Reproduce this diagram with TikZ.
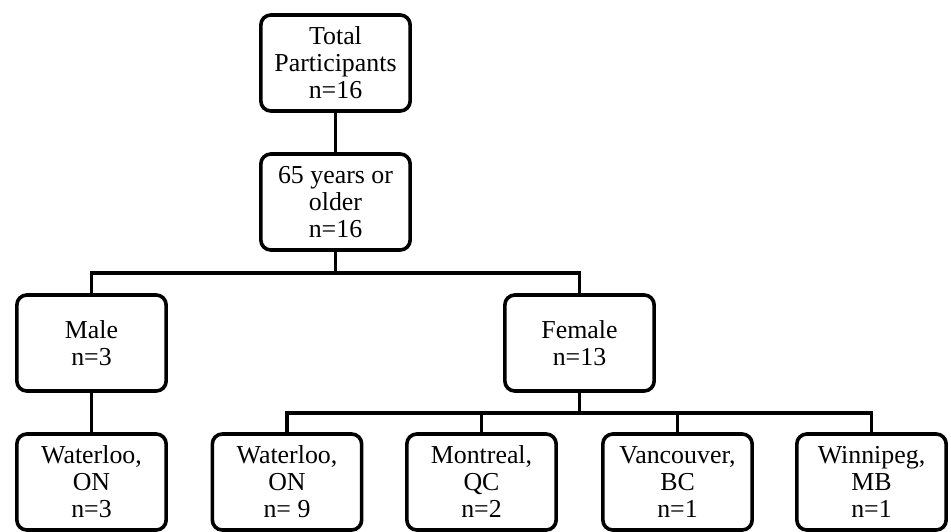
\documentclass[tikz,border=0pt]{standalone}
\usepackage{fontspec}
\setmainfont{Liberation Serif}
\begin{document}
\begin{tikzpicture}[x=0.75pt,y=-0.75pt,
  box/.style={draw=black,line width=2.7pt,rounded corners=7.5pt,minimum width=112pt,minimum height=72pt,inner sep=0pt,align=center,font=\fontsize{19.4}{20.25}\selectfont},
  link/.style={draw=black,line width=2.3pt}]
\useasboundingbox (0,0) rectangle (951,532);
\node[box] (top) at (335.5,63) {Total\\Participants\\n=16};
\node[box] (age) at (335.5,202) {65 years or\\older\\n=16};
\node[box] (male) at (91.5,343) {Male\\n=3};
\node[box] (female) at (579.5,343) {Female\\n=13};
\node[box] (w1) at (91.5,482) {Waterloo,\\ON\\n=3};
\node[box] (w2) at (287,482) {Waterloo,\\ON\\n= 9};
\node[box] (mtl) at (481.5,482) {Montreal,\\QC\\n=2};
\node[box] (van) at (677.5,482) {Vancouver,\\BC\\n=1};
\node[box] (win) at (871.5,482) {Winnipeg,\\MB\\n=1};
\coordinate (bus1) at (0,273);
\coordinate (bus2) at (0,413);
\draw[link] (top.south) -- (age.north);
\draw[link] (age.south) -- (age.south |- bus1) -| (male.north);
\draw[link] (age.south |- bus1) -| (female.north);
\draw[link] (male.south) -- (w1.north);
\draw[link] (female.south) -- (female.south |- bus2) -| (w2.north);
\draw[link] (female.south |- bus2) -| (mtl.north);
\draw[link] (female.south |- bus2) -| (van.north);
\draw[link] (female.south |- bus2) -| (win.north);
\end{tikzpicture}
\end{document}
